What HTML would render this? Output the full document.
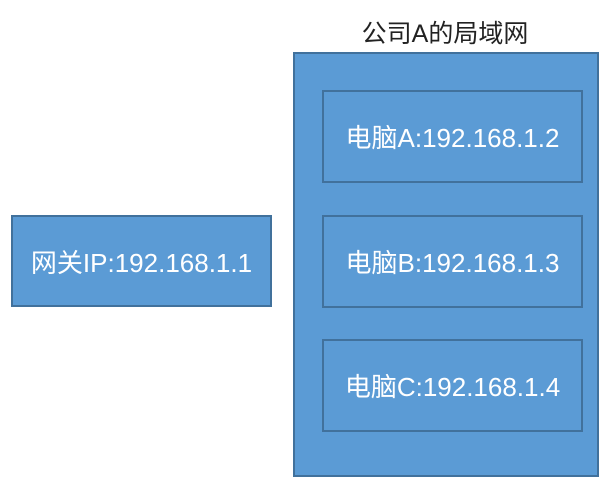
<!DOCTYPE html>
<html><head><meta charset="utf-8"><style>
body{margin:0;width:616px;height:487px;background:#fff;position:relative;overflow:hidden;font-family:"Liberation Sans","Noto Sans CJK SC",sans-serif}
.b{position:absolute;box-sizing:border-box;background:#5b9bd5;border:2px solid #41719c;color:#fff;font-size:26px;display:flex;align-items:center;justify-content:center;white-space:nowrap}
</style></head><body>
<div style="position:absolute;left:245px;top:14px;width:400px;text-align:center;font-size:25px;color:#222">公司A的局域网</div>
<div class="b" style="left:293px;top:52px;width:306px;height:425px"></div>
<div class="b" style="left:322px;top:90px;width:261px;height:93px">电脑A:192.168.1.2</div>
<div class="b" style="left:322px;top:215px;width:261px;height:93px">电脑B:192.168.1.3</div>
<div class="b" style="left:322px;top:339px;width:261px;height:93px">电脑C:192.168.1.4</div>
<div class="b" style="left:11px;top:215px;width:261px;height:92px">网关IP:192.168.1.1</div>
</body></html>
